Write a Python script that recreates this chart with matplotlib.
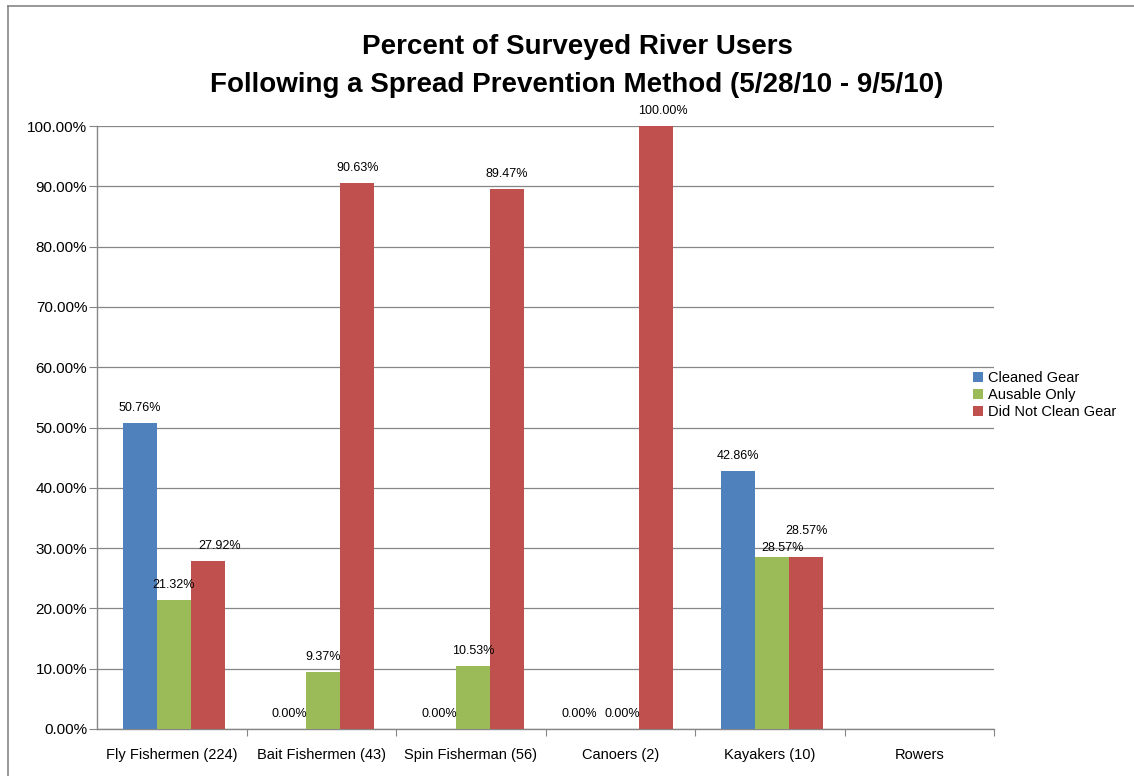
import matplotlib
matplotlib.use("Agg")
import matplotlib.pyplot as plt
from matplotlib.lines import Line2D
from matplotlib.ticker import FuncFormatter, FixedLocator
import numpy as np

plt.rcParams['font.family'] = ['Liberation Sans', 'DejaVu Sans']

categories = ["Fly Fishermen (224)", "Bait Fishermen (43)", "Spin Fisherman (56)",
              "Canoers (2)", "Kayakers (10)", "Rowers"]
series_names = ["Cleaned Gear", "Ausable Only", "Did Not Clean Gear"]
cleaned_gear = [50.76, 0.00, 0.00, 0.00, 42.86, None]
ausable_only = [21.32, 9.37, 10.53, 0.00, 28.57, None]
did_not_clean = [27.92, 90.63, 89.47, 100.00, 28.57, None]
title_text = "Percent of Surveyed River Users\nFollowing a Spread Prevention Method (5/28/10 - 9/5/10)"

colors = ["#4F81BD", "#9BBB59", "#C0504D"]
series = [cleaned_gear, ausable_only, did_not_clean]

# label nudges in pixels (series index, category index) -> (dx, dy)
nudges = {(2, 0): (12, 0), (2, 3): (7, 0), (0, 3): (-9, 0),
          (1, 4): (11, -6), (2, 4): (1, 11)}

W, H = 1134, 776
fig = plt.figure(figsize=(W / 100, H / 100), dpi=100)
ax = fig.add_axes([97 / W, 1 - 729 / H, (994 - 97) / W, (729 - 126) / H])

x = np.arange(len(categories))
bw = 0.227
shift = 0.014
grid_c = "#868686"
for j, (vals, c, name) in enumerate(zip(series, colors, series_names)):
    xs = x + (j - 1) * bw + shift
    hv = [np.nan if v is None else v for v in vals]
    ax.bar(xs, hv, width=bw, color=c, label=name, zorder=3, linewidth=0)
    for i, v in enumerate(vals):
        if v is None:
            continue
        dx, dy = nudges.get((j, i), (0, 0))
        ax.annotate(f"{v:.2f}%", (xs[i], v), xytext=(dx * 0.72, (12 + dy) * 0.72),
                    textcoords="offset points", ha="center", va="baseline",
                    fontsize=9, color="black", zorder=5)

ax.set_xlim(-0.5, len(categories) - 0.5)
ax.set_ylim(0, 100)
ax.set_yticks(np.arange(0, 101, 10))
ax.yaxis.set_major_formatter(FuncFormatter(lambda v, p: f"{v:.2f}%"))
ax.yaxis.grid(True, color=grid_c, linewidth=0.9, zorder=0)
ax.set_axisbelow(True)

ax.xaxis.set_major_locator(FixedLocator(np.arange(0.5, len(categories), 1.0)))
ax.xaxis.set_major_formatter(FuncFormatter(lambda v, p: ""))
ax.xaxis.set_minor_locator(FixedLocator(x))
ax.set_xticklabels(categories, minor=True)
ax.tick_params(axis="x", which="major", length=5, color=grid_c, direction="out")
ax.tick_params(axis="x", which="minor", length=0, pad=14, labelsize=10.5)
ax.tick_params(axis="y", length=6, color=grid_c, direction="out", labelsize=11, pad=1)

for s in ["top", "right"]:
    ax.spines[s].set_visible(False)
for s in ["left", "bottom"]:
    ax.spines[s].set_color(grid_c)
    ax.spines[s].set_linewidth(1.0)

fig.text(577 / W, 1 - 66 / H, title_text, ha="center", va="center",
         fontsize=20, fontweight="bold", linespacing=1.55)

leg = fig.legend(loc="upper left", bbox_to_anchor=(973 / W, 1 - 371 / H),
                 frameon=False, fontsize=10.5, handlelength=0.7, handleheight=0.7,
                 handletextpad=0.35, labelspacing=0.2, borderaxespad=0, borderpad=0)

# chart border (top and left visible)
fig.add_artist(Line2D([8 / W, 1], [1 - 6 / H, 1 - 6 / H], transform=fig.transFigure,
                      color=grid_c, linewidth=1.2))
fig.add_artist(Line2D([8 / W, 8 / W], [0, 1 - 6 / H], transform=fig.transFigure,
                      color=grid_c, linewidth=1.2))

fig.savefig("out.png", dpi=100, facecolor="white")
